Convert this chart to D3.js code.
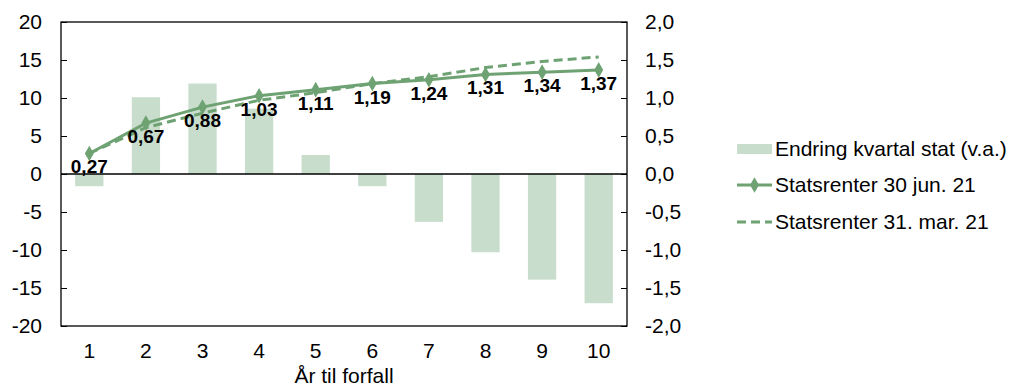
<!DOCTYPE html>
<html><head><meta charset="utf-8">
<script src="https://cdn.jsdelivr.net/npm/d3@7"></script>
<style>body{margin:0;background:#fff}svg{display:block}text{font-family:"Liberation Sans",Arial,sans-serif}</style>
</head><body><svg id="c" width="1013" height="387"></svg>
<script>
const categories = ["1","2","3","4","5","6","7","8","9","10"];
const endringKvartal = [-1.6, 10.1, 11.9, 8.6, 2.5, -1.6, -6.3, -10.3, -13.9, -17.0];
const statsJun21 = [0.27, 0.67, 0.88, 1.03, 1.11, 1.19, 1.24, 1.31, 1.34, 1.37];
const statsMar21 = [0.27, 0.61, 0.80, 0.97, 1.07, 1.19, 1.28, 1.40, 1.48, 1.54];
const leftTicks = [-20,-15,-10,-5,0,5,10,15,20];
const rightTicks = [-2.0,-1.5,-1.0,-0.5,0.0,0.5,1.0,1.5,2.0];
const seriesNames = ["Endring kvartal stat (v.a.)","Statsrenter 30 jun. 21","Statsrenter 31. mar. 21"];
const xTitle = "År til forfall";

const barColor = "#c9ddcc", lineColor = "#6ea273";
const FS = 21;
const svg = d3.select("#c");
const L = 61, R = 627, T = 22, B = 326;
const x = d3.scaleBand().domain(categories).range([L, R]).paddingInner(0.5).paddingOuter(0.25);
const yL = d3.scaleLinear().domain([-20, 20]).range([B, T]);
const yR = d3.scaleLinear().domain([-2, 2]).range([B, T]);
const fmt = d => d.toFixed(1).replace(".", ",");

svg.append("g").selectAll("rect").data(endringKvartal).join("rect")
  .attr("x", (d,i) => x(categories[i]))
  .attr("width", x.bandwidth())
  .attr("y", d => yL(Math.max(0,d)))
  .attr("height", d => Math.abs(yL(d) - yL(0)))
  .attr("fill", barColor);

svg.append("rect").attr("x", L).attr("y", T).attr("width", R-L).attr("height", B-T)
  .attr("fill","none").attr("stroke","#000").attr("stroke-width",1.3);
svg.append("line").attr("x1",L).attr("x2",R).attr("y1",yL(0)).attr("y2",yL(0)).attr("stroke","#000").attr("stroke-width",1.3);

const gl = svg.append("g").attr("transform",`translate(${L},0)`)
  .call(d3.axisLeft(yL).tickValues(leftTicks).tickSize(-6).tickPadding(19).tickFormat(d=>String(d)));
gl.select(".domain").remove();
gl.selectAll("line").attr("stroke","#000");
gl.selectAll("text").attr("font-size",FS).attr("fill","#000");

const gr = svg.append("g").attr("transform",`translate(${R},0)`)
  .call(d3.axisRight(yR).tickValues(rightTicks).tickSize(-6).tickPadding(18).tickFormat(fmt));
gr.select(".domain").remove();
gr.selectAll("line").attr("stroke","#000");
gr.selectAll("text").attr("font-size",FS).attr("fill","#000");

const gx = svg.append("g").attr("transform",`translate(0,${B})`)
  .call(d3.axisBottom(x).tickSize(0).tickPadding(17));
gx.select(".domain").remove();
gx.selectAll("text").attr("font-size",FS).attr("fill","#000");
svg.append("text").attr("x",(L+R)/2).attr("y",383).attr("text-anchor","middle")
  .attr("font-size",FS).attr("fill","#000").text(xTitle);

const cx = i => x(categories[i]) + x.bandwidth()/2;
const line = d3.line().x((d,i)=>cx(i)).y(d=>yR(d));
svg.append("path").datum(statsMar21).attr("d",line).attr("fill","none")
  .attr("stroke",lineColor).attr("stroke-width",3).attr("stroke-dasharray","9,5");
svg.append("path").datum(statsJun21).attr("d",line).attr("fill","none")
  .attr("stroke",lineColor).attr("stroke-width",3);
const diamond = d3.symbol().type(d3.symbolDiamond).size(70);
svg.append("g").selectAll("path").data(statsJun21).join("path")
  .attr("d",diamond).attr("transform",(d,i)=>`translate(${cx(i)},${yR(d)})`).attr("fill",lineColor);

svg.append("g").selectAll("text").data(statsJun21).join("text")
  .attr("x",(d,i)=>cx(i)).attr("y",d=>yR(d)+20).attr("text-anchor","middle")
  .attr("font-size",19).attr("font-weight","bold").attr("fill","#000")
  .text(d=>d.toFixed(2).replace(".",","));

const lg = svg.append("g");
const lx = 737, lw = 35, tx = 775;
const rows = [149, 185, 222];
lg.append("rect").attr("x",lx).attr("y",rows[0]-5).attr("width",lw).attr("height",10).attr("fill",barColor);
lg.append("line").attr("x1",lx).attr("x2",lx+lw).attr("y1",rows[1]).attr("y2",rows[1]).attr("stroke",lineColor).attr("stroke-width",3);
lg.append("path").attr("d",diamond).attr("transform",`translate(${lx+lw/2},${rows[1]})`).attr("fill",lineColor);
lg.append("line").attr("x1",lx).attr("x2",lx+lw).attr("y1",rows[2]).attr("y2",rows[2]).attr("stroke",lineColor).attr("stroke-width",3).attr("stroke-dasharray","9,5");
lg.selectAll("text").data(seriesNames).join("text")
  .attr("x",tx).attr("y",(d,i)=>rows[i]).attr("dy","0.35em")
  .attr("font-size",FS).attr("fill","#000").text(d=>d);
</script></body></html>
